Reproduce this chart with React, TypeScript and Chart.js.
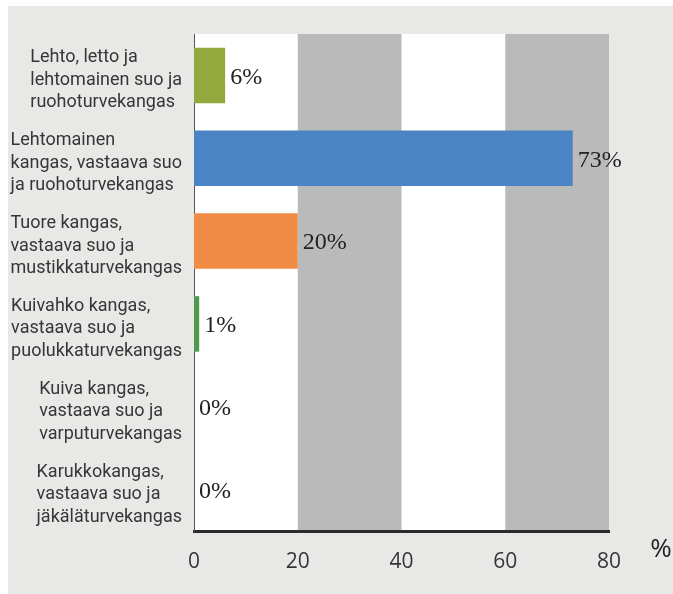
import React, { useEffect, useRef } from "react";
import { Chart, registerables } from "chart.js";

Chart.register(...registerables);

const categories: string[][] = [
  ["Lehto, letto ja", "lehtomainen suo ja", "ruohoturvekangas"],
  ["Lehtomainen", "kangas, vastaava suo", "ja ruohoturvekangas"],
  ["Tuore kangas,", "vastaava suo ja", "mustikkaturvekangas"],
  ["Kuivahko kangas,", "vastaava suo ja", "puolukkaturvekangas"],
  ["Kuiva kangas,", "vastaava suo ja", "varputurvekangas"],
  ["Karukkokangas,", "vastaava suo ja", "jäkäläturvekangas"],
];
const values = [6, 73, 20, 1, 0, 0];
const valueLabels = ["6%", "73%", "20%", "1%", "0%", "0%"];
const barColors = ["#93a83d", "#4a84c4", "#f08c45", "#4f9a4c", "#4f9a4c", "#4f9a4c"];
const xMin = 0;
const xMax = 80;
const xStep = 20;
const bands: [number, number][] = [
  [20, 40],
  [60, 80],
];
const unitLabel = "%";

const W = 673;
const H = 594;
const SANS = "Roboto, 'Noto Sans', sans-serif";
const TICK_FONT = "'Liberation Sans Narrow', 'Open Sans', Roboto, sans-serif";
const SERIF = "'Liberation Serif', 'Times New Roman', Times, serif";

const decorPlugin = {
  id: "decor",
  beforeDraw(chart: any) {
    const { ctx, chartArea } = chart;
    const x = chart.scales.x;
    ctx.save();
    ctx.fillStyle = "#e8e8e6";
    ctx.fillRect(8, 6, W - 8, H - 6);
    ctx.fillStyle = "#ffffff";
    ctx.fillRect(chartArea.left, chartArea.top, chartArea.right - chartArea.left, chartArea.bottom - chartArea.top);
    ctx.fillStyle = "#b9bab9";
    for (const [a, b] of bands) {
      const x0 = x.getPixelForValue(a);
      const x1 = x.getPixelForValue(b);
      ctx.fillRect(x0, chartArea.top, x1 - x0, chartArea.bottom - chartArea.top);
    }
    ctx.restore();
  },
  afterDatasetsDraw(chart: any) {
    const { ctx } = chart;
    const meta = chart.getDatasetMeta(0);
    ctx.save();
    ctx.font = `24px ${SERIF}`;
    ctx.fillStyle = "#222222";
    ctx.textAlign = "left";
    ctx.textBaseline = "middle";
    meta.data.forEach((bar: any, i: number) => {
      ctx.fillText(valueLabels[i], bar.x + 5, bar.y + 2);
    });
    ctx.restore();
  },
  afterDraw(chart: any) {
    const { ctx, chartArea } = chart;
    const y = chart.scales.y;
    ctx.save();
    ctx.font = `18px ${SANS}`;
    ctx.fillStyle = "#363636";
    ctx.textAlign = "left";
    ctx.textBaseline = "middle";
    const lh = 22.5;
    categories.forEach((lines, i) => {
      const cy = y.getPixelForValue(i);
      let maxW = 0;
      for (const l of lines) maxW = Math.max(maxW, ctx.measureText(l).width);
      const x0 = chartArea.left - 12 - maxW;
      const start = cy - ((lines.length - 1) * lh) / 2 + 5;
      lines.forEach((l, k) => ctx.fillText(l, x0, start + k * lh));
    });
    ctx.font = `26px ${TICK_FONT}`;
    ctx.fillStyle = "#222222";
    ctx.textAlign = "center";
    ctx.fillText(unitLabel, chartArea.right + 52, chartArea.bottom + 19);
    ctx.restore();
  },
};

export default function App() {
  const ref = useRef<HTMLCanvasElement | null>(null);
  useEffect(() => {
    if (!ref.current) return;
    const chart = new Chart(ref.current, {
      type: "bar",
      data: {
        labels: categories.map((c) => c.join(" ")),
        datasets: [
          {
            data: values,
            backgroundColor: barColors,
            borderWidth: 0,
            barPercentage: 0.67,
            categoryPercentage: 1,
          },
        ],
      },
      options: {
        indexAxis: "y",
        responsive: false,
        animation: false,
        devicePixelRatio: 1,
        layout: { padding: { left: 0, top: 34, right: 64, bottom: 0 } },
        plugins: { legend: { display: false }, tooltip: { enabled: false } },
        scales: {
          x: {
            min: xMin,
            max: xMax,
            grid: { display: false, drawTicks: false },
            border: { display: true, color: "#2b2b2b", width: 3 },
            ticks: {
              stepSize: xStep,
              padding: 18,
              color: "#363636",
              font: { family: TICK_FONT, size: 21 },
              maxRotation: 0,
            },
            afterFit: (s: any) => {
              s.height = 63;
            },
          },
          y: {
            grid: { display: false, drawTicks: false },
            border: { display: true, color: "#555555", width: 1 },
            ticks: { display: false },
            afterFit: (s: any) => {
              s.width = 194;
            },
          },
        },
      },
      plugins: [decorPlugin],
    } as any);
    let alive = true;
    if ((document as any).fonts && (document as any).fonts.ready) {
      (document as any).fonts.ready.then(() => {
        if (alive) chart.draw();
      });
    }
    return () => {
      alive = false;
      chart.destroy();
    };
  }, []);
  return (
    <div style={{ position: "absolute", left: 0, top: 0, width: W, height: H }}>
      <canvas ref={ref} width={W} height={H} style={{ display: "block" }} />
    </div>
  );
}
